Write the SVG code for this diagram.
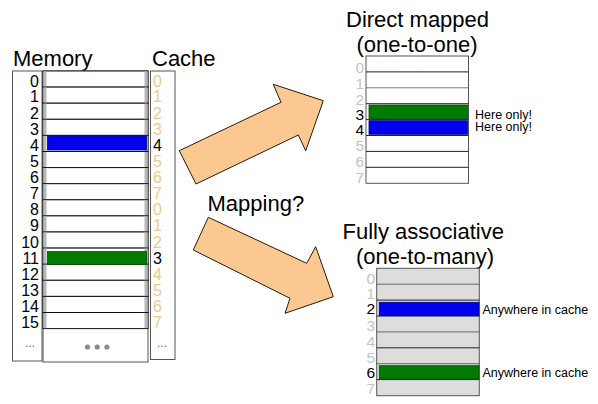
<svg xmlns="http://www.w3.org/2000/svg" width="598" height="404" viewBox="0 0 598 404">
<style>
text{font-family:"Liberation Sans",Arial,sans-serif;}
.title{font-size:22px;fill:#000;}
.num{font-size:16px;}
.sn{font-size:15.5px;}
.rn{text-anchor:end;}
.blk{fill:#000;}
.tan{fill:#f0c88c;}
.gry{fill:#c4c4c4;}
.note{font-size:12.5px;fill:#000;}
.box{fill:#fff;stroke:#555;stroke-width:1;}
.row{fill:#fff;stroke:#111;stroke-width:1;}
.strip{fill:#b8b8b8;}
.rl{stroke:#222;stroke-width:1;}
.blue{fill:#0000ee;stroke:#00008a;stroke-width:0.8;}
.green{fill:#007a00;stroke:#004d00;stroke-width:0.8;}
.arrow{fill:#fcc891;stroke:#2a1a0a;stroke-width:1;stroke-linejoin:miter;}
.dots{font-size:12px;fill:#666;}
</style>
<defs>
<g id="mrow">
<rect class="row" x="43" y="0" width="105" height="16.1"/>
<rect class="strip" x="43.5" y="0.5" width="3" height="15.1"/>
<rect class="strip" x="144.5" y="0.5" width="3" height="15.1"/>
</g>
</defs>

<g id="labels">
<text class="title" x="13" y="66">Memory</text>
<text class="title" x="152" y="66">Cache</text>
<text class="title" x="207.5" y="211">Mapping?</text>
</g>

<g id="memory">
<rect class="box" x="12.5" y="71" width="29.5" height="290"/>
<rect class="box" x="43" y="71" width="105" height="291" stroke="#888"/>
<rect class="box" x="150.5" y="71" width="24.5" height="288.5"/>
<use href="#mrow" y="71"/>
<use href="#mrow" y="87.1"/>
<use href="#mrow" y="103.2"/>
<use href="#mrow" y="119.3"/>
<use href="#mrow" y="135.4"/>
<use href="#mrow" y="151.5"/>
<use href="#mrow" y="167.6"/>
<use href="#mrow" y="183.7"/>
<use href="#mrow" y="199.8"/>
<use href="#mrow" y="215.9"/>
<use href="#mrow" y="232"/>
<use href="#mrow" y="248.1"/>
<use href="#mrow" y="264.2"/>
<use href="#mrow" y="280.3"/>
<use href="#mrow" y="296.4"/>
<use href="#mrow" y="312.5"/>
<rect class="blue" x="47.5" y="136" width="99" height="14"/>
<rect class="green" x="47.5" y="251.5" width="99" height="13"/>
<g class="num rn blk">
<text x="39" y="86.7">0</text>
<text x="39" y="102.3">1</text>
<text x="39" y="118.9">2</text>
<text x="39" y="134.5">3</text>
<text x="39" y="150.6">4</text>
<text x="39" y="166.7">5</text>
<text x="39" y="182.8">6</text>
<text x="39" y="198.9">7</text>
<text x="39" y="215">8</text>
<text x="39" y="231.1">9</text>
<text x="39" y="247.7">10</text>
<text x="39" y="263.8">11</text>
<text x="39" y="279.9">12</text>
<text x="39" y="296">13</text>
<text x="39" y="312.1">14</text>
<text x="39" y="328.2">15</text>
</g>
<g class="num">
<text class="tan" x="153" y="86.7">0</text>
<text class="tan" x="153" y="102.3">1</text>
<text class="tan" x="153" y="118.9">2</text>
<text class="tan" x="153" y="134.5">3</text>
<text class="blk" x="153" y="150.6">4</text>
<text class="tan" x="153" y="166.7">5</text>
<text class="tan" x="153" y="182.8">6</text>
<text class="tan" x="153" y="198.9">7</text>
<text class="tan" x="153" y="215">0</text>
<text class="tan" x="153" y="231.1">1</text>
<text class="tan" x="153" y="247.7">2</text>
<text class="blk" x="153" y="263.8">3</text>
<text class="tan" x="153" y="279.9">4</text>
<text class="tan" x="153" y="296">5</text>
<text class="tan" x="153" y="312.1">6</text>
<text class="tan" x="153" y="328.2">7</text>
</g>
<text class="dots" x="25" y="347">...</text>
<text class="dots" x="157" y="347">...</text>
<g fill="#8a8a8a">
<circle cx="87.5" cy="347" r="2.6"/>
<circle cx="97.2" cy="347" r="2.6"/>
<circle cx="106.9" cy="347" r="2.6"/>
</g>
</g>

<g id="connectors">
<polygon class="arrow" points="179.3,150.7 281,102.3 273.3,84.3 323.3,100.7 305.7,150.7 298.3,135 196,184"/>
<polygon class="arrow" points="208.3,217.3 306.7,263.3 315.7,246.7 333.3,296.7 285,313.3 290,298.3 193.3,250"/>
</g>

<g id="direct-mapped">
<text class="title" x="346" y="27">Direct mapped</text>
<text class="title" x="356.5" y="51.5">(one-to-one)</text>
<rect class="box" x="366" y="56" width="102.5" height="127.3"/>
<g class="rl">
<line x1="366" y1="71.9" x2="468.5" y2="71.9"/>
<line x1="366" y1="87.8" x2="468.5" y2="87.8" stroke="#777"/>
<line x1="366" y1="103.7" x2="468.5" y2="103.7"/>
<line x1="366" y1="119.6" x2="468.5" y2="119.6"/>
<line x1="366" y1="135.5" x2="468.5" y2="135.5"/>
<line x1="366" y1="151.4" x2="468.5" y2="151.4"/>
<line x1="366" y1="167.3" x2="468.5" y2="167.3"/>
</g>
<rect class="green" x="369" y="105" width="98.5" height="14"/>
<rect class="blue" x="369" y="120.7" width="98.5" height="13.6"/>
<g class="sn rn">
<text class="gry" x="364" y="73">0</text>
<text class="gry" x="364" y="88.9">1</text>
<text class="gry" x="364" y="104.8">2</text>
<text class="blk" x="364" y="119.5">3</text>
<text class="blk" x="364" y="135.2">4</text>
<text class="gry" x="364" y="151.2">5</text>
<text class="gry" x="364" y="167">6</text>
<text class="gry" x="364" y="182.8">7</text>
</g>
<text class="note" x="475" y="118.5">Here only!</text>
<text class="note" x="475" y="130.5">Here only!</text>
</g>

<g id="fully-associative">
<text class="title" x="342.5" y="239.3">Fully associative</text>
<text class="title" x="356" y="263.5">(one-to-many)</text>
<rect class="box" x="376.7" y="268.3" width="102.6" height="127.4" style="fill:#dddddd"/>
<g class="rl">
<line x1="376.7" y1="284.2" x2="479.3" y2="284.2" stroke="#666"/>
<line x1="376.7" y1="300.1" x2="479.3" y2="300.1"/>
<line x1="376.7" y1="316" x2="479.3" y2="316"/>
<line x1="376.7" y1="331.9" x2="479.3" y2="331.9" stroke="#666"/>
<line x1="376.7" y1="347.8" x2="479.3" y2="347.8"/>
<line x1="376.7" y1="363.7" x2="479.3" y2="363.7" stroke="#666"/>
<line x1="376.7" y1="379.6" x2="479.3" y2="379.6"/>
</g>
<rect class="blue" x="379.3" y="302.3" width="99.7" height="13.4"/>
<rect class="green" x="379.3" y="365.7" width="99.7" height="13.3"/>
<g class="sn rn">
<text class="gry" x="375" y="283.5">0</text>
<text class="gry" x="375" y="299.2">1</text>
<text class="blk" x="375" y="314.4">2</text>
<text class="gry" x="375" y="330.8">3</text>
<text class="gry" x="375" y="346.7">4</text>
<text class="gry" x="375" y="362.6">5</text>
<text class="blk" x="375" y="378.3">6</text>
<text class="gry" x="375" y="394.4">7</text>
</g>
<text class="note" x="482.5" y="313.5">Anywhere in cache</text>
<text class="note" x="482.5" y="377">Anywhere in cache</text>
</g>
</svg>
